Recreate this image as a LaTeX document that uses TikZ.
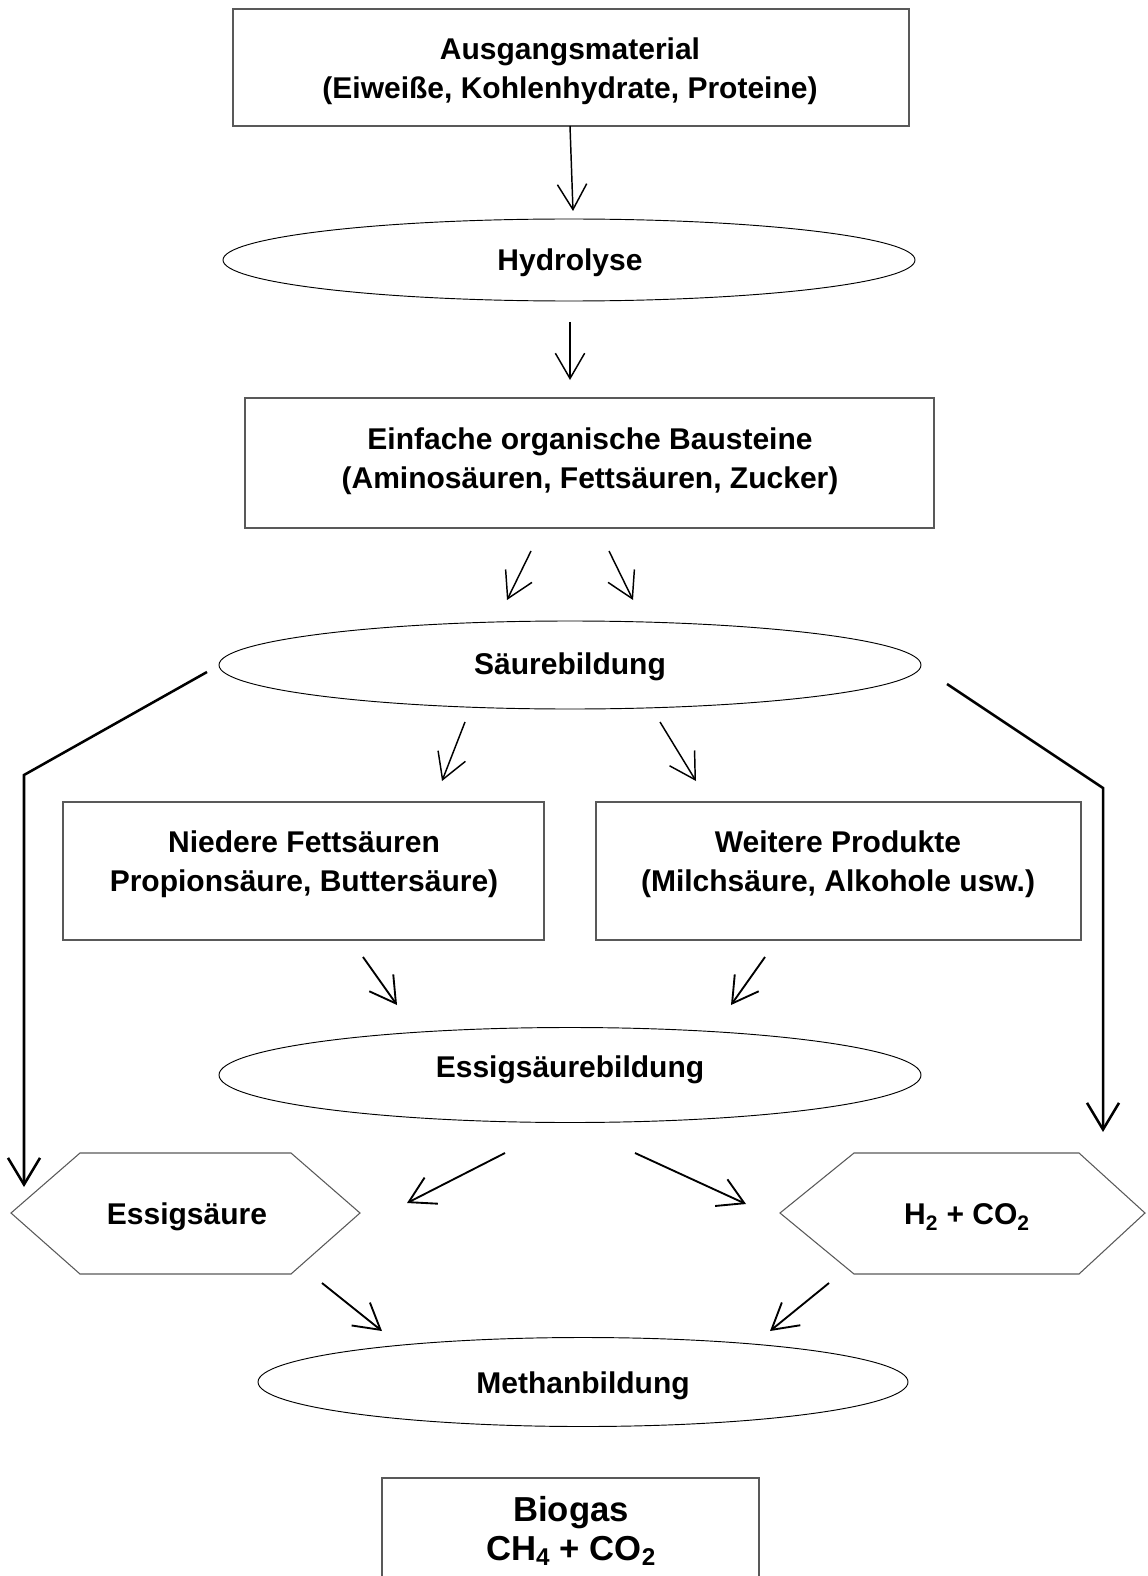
\documentclass[tikz,border=0pt]{standalone}
\usepackage{fontspec}
\setmainfont{Liberation Sans}
\usetikzlibrary{arrows.meta,shapes.geometric}
\begin{document}
\begin{tikzpicture}[x=0.75pt,y=-0.75pt,
  txt/.style={font=\fontsize{22.5}{29.4}\selectfont\bfseries, align=center, inner sep=0pt},
  bigtxt/.style={font=\fontsize{26}{29.3}\selectfont\bfseries, align=center, inner sep=0pt},
  boxline/.style={draw=black!65, line width=0.8pt, inner sep=0pt},
  ell/.style={draw=black, line width=0.7pt, ellipse, inner sep=0pt},
  hexline/.style={draw=black!65, line width=0.8pt},
  arr/.style={line width=1.4pt, -{Straight Barb[length=19pt,width=22pt]}},
  thinarr/.style={line width=1.1pt, -{Straight Barb[length=19pt,width=22pt]}},
  bypass/.style={line width=1.9pt, -{Straight Barb[length=20pt,width=24pt]}}
]
\useasboundingbox (0,0) rectangle (1147,1576);

% shapes
\node[boxline, minimum width=676*0.75pt, minimum height=117*0.75pt] (b1) at (571,67.5) {};
\node[ell, minimum width=692*0.75pt, minimum height=82*0.75pt] (hyd) at (569,260) {};
\node[boxline, minimum width=689*0.75pt, minimum height=130*0.75pt] (b2) at (589.5,463) {};
\node[ell, minimum width=702*0.75pt, minimum height=88*0.75pt] (sb) at (570,665) {};
\node[boxline, minimum width=481*0.75pt, minimum height=138*0.75pt] (b3) at (303.5,871) {};
\node[boxline, minimum width=485*0.75pt, minimum height=138*0.75pt] (b4) at (838.5,871) {};
\node[ell, minimum width=702*0.75pt, minimum height=95*0.75pt] (esb) at (570,1075) {};
\node[ell, minimum width=650*0.75pt, minimum height=89*0.75pt] (mb) at (583,1382) {};

% hexagons
\draw[hexline] (11,1213) -- (80,1153) -- (291,1153) -- (360,1213) -- (291,1274) -- (80,1274) -- cycle;
\draw[hexline] (780,1213) -- (854,1153) -- (1079,1153) -- (1145,1213) -- (1079,1274) -- (854,1274) -- cycle;

% biogas box (open at bottom, runs off the page)
\draw[hexline] (382,1580) -- (382,1478) -- (759,1478) -- (759,1580);

% texts
\node[txt] (t1) at (570,71) {Ausgangsmaterial\\(Eiweiße, Kohlenhydrate, Proteine)};
\node[txt] (thyd) at (570,263) {Hydrolyse};
\node[txt] (t2) at (590,461.5) {Einfache organische Bausteine\\(Aminosäuren, Fettsäuren, Zucker)};
\node[txt] (tsb) at (570,667) {Säurebildung};
\node[txt] (t3) at (304,864) {Niedere Fettsäuren\\Propionsäure, Buttersäure)};
\node[txt] (t4) at (838,864) {Weitere Produkte\\(Milchsäure, Alkohole usw.)};
\node[txt] (tesb) at (570,1070) {Essigsäurebildung};
\node[txt] (tes) at (187,1217) {Essigsäure};
\node[txt] (th2) at (967,1217) {H\textsubscript{2} + CO\textsubscript{2}};
\node[txt] (tmb) at (583,1386) {Methanbildung};
\node[bigtxt] (tbio) at (571,1531) {Biogas\\CH\textsubscript{4} + CO\textsubscript{2}};

% arrow end points
\coordinate (a1s) at (570,126);  \coordinate (a1e) at (573,211);
\coordinate (a2s) at (570,322);  \coordinate (a2e) at (570,380);
\coordinate (a3ls) at (531,551); \coordinate (a3le) at (507,600);
\coordinate (a3rs) at (609,551); \coordinate (a3re) at (633,600);
\coordinate (a4ls) at (465,722); \coordinate (a4le) at (442,781);
\coordinate (a4rs) at (660,722); \coordinate (a4re) at (696,781);
\coordinate (bls) at (207,672);  \coordinate (blc) at (24,775);  \coordinate (ble) at (24,1187);
\coordinate (brs) at (947,684);  \coordinate (brc) at (1103,788); \coordinate (bre) at (1103,1132);
\coordinate (a5ls) at (363,957); \coordinate (a5le) at (397,1005);
\coordinate (a5rs) at (765,957); \coordinate (a5re) at (731,1005);
\coordinate (a6ls) at (505,1153); \coordinate (a6le) at (407,1203);
\coordinate (a6rs) at (635,1153); \coordinate (a6re) at (746,1204);
\coordinate (a7ls) at (322,1283); \coordinate (a7le) at (382,1331);
\coordinate (a7rs) at (829,1283); \coordinate (a7re) at (770,1331);

% arrows
\draw[thinarr] (a1s) -- (a1e);
\draw[thinarr] (a2s) -- (a2e);
\draw[thinarr] (a3ls) -- (a3le);
\draw[thinarr] (a3rs) -- (a3re);
\draw[thinarr] (a4ls) -- (a4le);
\draw[thinarr] (a4rs) -- (a4re);
\draw[bypass] (bls) -- (blc) -- (ble);
\draw[bypass] (brs) -- (brc) -- (bre);
\draw[arr] (a5ls) -- (a5le);
\draw[arr] (a5rs) -- (a5re);
\draw[arr] (a6ls) -- (a6le);
\draw[arr] (a6rs) -- (a6re);
\draw[arr] (a7ls) -- (a7le);
\draw[arr] (a7rs) -- (a7re);
\end{tikzpicture}
\end{document}
